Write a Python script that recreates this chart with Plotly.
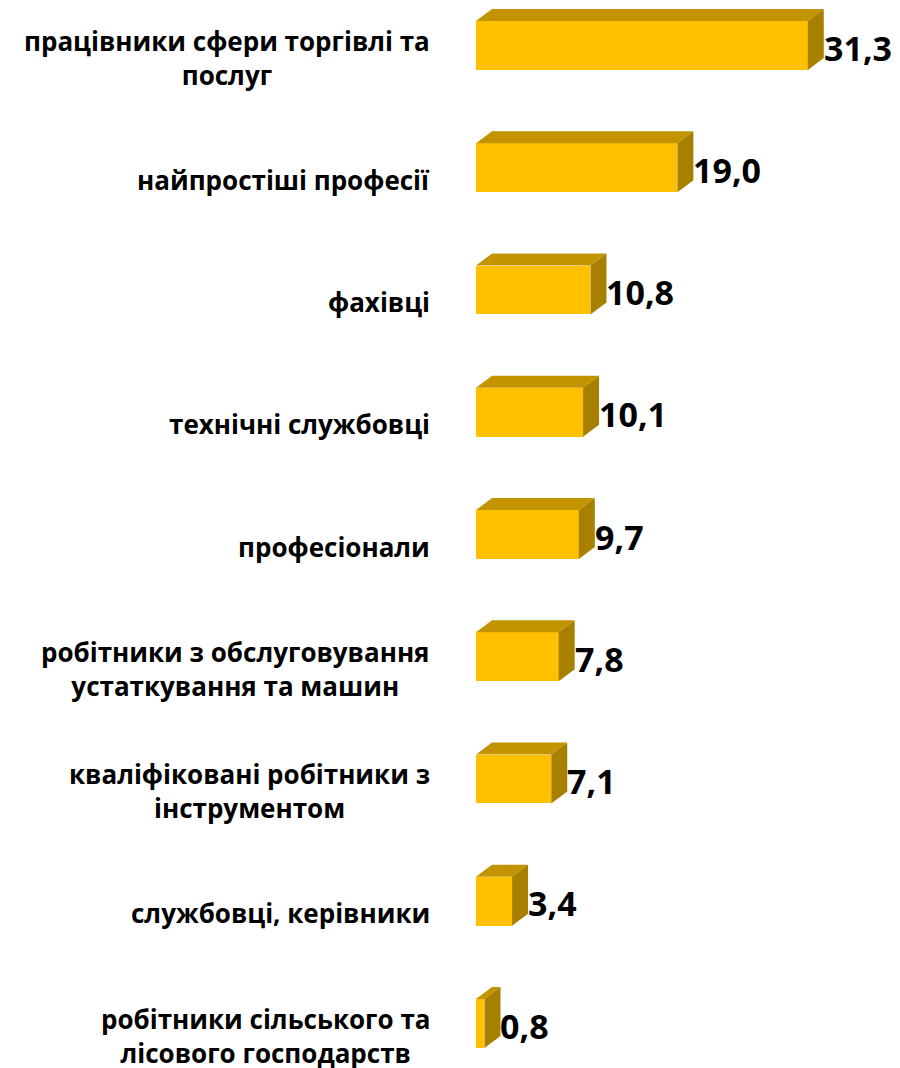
import plotly.graph_objects as go

categories = [
    "працівники сфери торгівлі та<br>послуг",
    "найпростіші професії",
    "фахівці",
    "технічні службовці",
    "професіонали",
    "робітники з обслуговування<br>устаткування та машин",
    "кваліфіковані робітники з<br>інструментом",
    "службовці, керівники",
    "робітники сільського та<br>лісового господарств",
]
values = [31.3, 19.0, 10.8, 10.1, 9.7, 7.8, 7.1, 3.4, 0.8]
value_labels = ["31,3", "19,0", "10,8", "10,1", "9,7", "7,8", "7,1", "3,4", "0,8"]

W, H = 900, 1068
PAGE_OFF = 8  # body margin of the page
ML = 476 - PAGE_OFF
px_per_x = 10.6
X_MAX = (W - ML) / px_per_x
Y0_PX, STEP_PX = 45.5 - PAGE_OFF, 122.25
y_top = -Y0_PX / STEP_PX
y_bot = (H - Y0_PX) / STEP_PX
half = 0.2
DX = 16 / px_per_x
DY = 12 / STEP_PX

FRONT = "#FFC000"
TOP = "#C49400"
SIDE = "#A88000"

ys = list(range(len(categories)))
fig = go.Figure()
for i, v in zip(ys, values):
    yt, yb = i - half, i + half
    fig.add_trace(go.Scatter(
        x=[0, DX, v + DX, v, 0], y=[yt, yt - DY, yt - DY, yt, yt],
        fill="toself", fillcolor=TOP, mode="lines", line=dict(width=0, color=TOP),
        hoverinfo="skip", showlegend=False))
    fig.add_trace(go.Scatter(
        x=[v, v + DX, v + DX, v, v], y=[yt, yt - DY, yb - DY, yb, yt],
        fill="toself", fillcolor=SIDE, mode="lines", line=dict(width=0, color=SIDE),
        hoverinfo="skip", showlegend=False))

fig.add_trace(go.Bar(
    x=values, y=ys, orientation="h", width=2 * half,
    marker=dict(color=FRONT, line=dict(width=0)),
    hoverinfo="skip", showlegend=False))

annotations = []
for i, (c, v, lab) in enumerate(zip(categories, values, value_labels)):
    annotations.append(dict(
        x=0, y=i, xref="x", yref="y", text="<b>" + c + "</b>", showarrow=False,
        xanchor="right", yanchor="middle", align="center", xshift=-44,
        yshift=-12,
        font=dict(family="Open Sans", size=26, color="#000000")))
    annotations.append(dict(
        x=v + DX, y=i, xref="x", yref="y", text="<b>" + lab + "</b>", showarrow=False,
        xanchor="left", yanchor="middle", xshift=-2, yshift=-2,
        font=dict(family="Open Sans", size=34, color="#000000")))

fig.update_layout(
    width=W, height=H,
    margin=dict(l=ML, r=0, t=0, b=0),
    paper_bgcolor="white", plot_bgcolor="white",
    xaxis=dict(range=[0, X_MAX], visible=False, fixedrange=True),
    yaxis=dict(range=[y_bot, y_top], visible=False, fixedrange=True),
    annotations=annotations,
    bargap=0,
)
fig.write_html("out.html")
